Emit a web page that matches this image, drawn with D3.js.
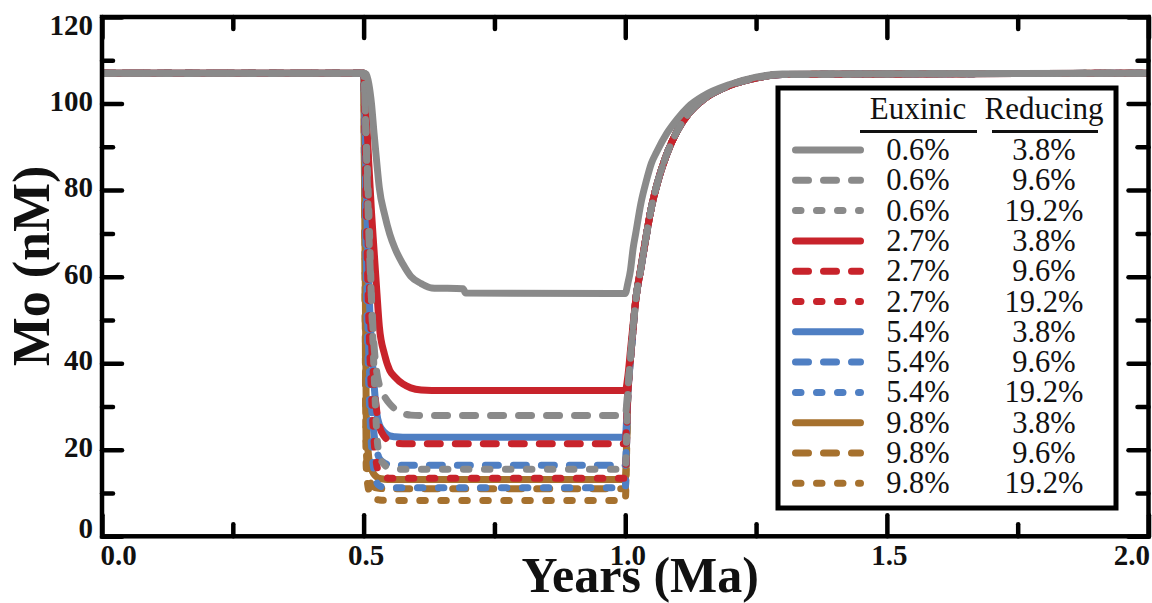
<!DOCTYPE html>
<html>
<head>
<meta charset="utf-8">
<script src="https://cdn.jsdelivr.net/npm/d3@7/dist/d3.min.js"></script>
<style>
  html, body { margin: 0; padding: 0; background: #ffffff; }
  svg { display: block; }
</style>
</head>
<body>
<svg id="chart" width="1152" height="603"></svg>
<script>
// Model time axis (Ma) shared by every scenario
const years = [0, 0.5, 0.505, 0.51, 0.515, 0.52, 0.525, 0.53, 0.54, 0.55, 0.56, 0.575, 0.59, 0.61, 0.63, 0.69, 0.695,
               1.0, 1.005, 1.01, 1.015, 1.02, 1.03, 1.04, 1.05, 1.06, 1.08, 1.1, 1.12, 1.15, 1.2, 1.25, 1.3, 2.0];

// Seawater Mo (nM) for each euxinic / reducing scenario
const mo_06_38  = [107, 107, 106.8, 104.5, 100, 93, 86.5, 80.5, 74.4, 69.8, 66.5, 62.9, 60.1, 58.4, 57.4, 57.2, 56.2,
                   56.1, 58.5, 61.5, 66.5, 70, 77, 82, 86.2, 88.8, 93.2, 96.5, 99.2, 101.8, 104.4, 106.1, 106.8, 107];
const mo_06_96  = [107, 107, 90, 70, 55, 44, 38, 35, 32.3, 30.6, 29.4, 28.4, 28.0, 27.9, 27.9, 27.9, 27.9,
                   27.9, 34, 41.5, 48.5, 54.5, 62, 69.3, 76, 81, 88.5, 93.8, 97.5, 101, 104.2, 105.9, 106.7, 107];
const mo_06_192 = [107, 107, 92, 75, 55, 38, 24, 18.8, 16.5, 15.8, 15.6, 15.5, 15.5, 15.5, 15.5, 15.5, 15.5,
                   15.5, 33, 41, 48, 54.5, 62, 69.3, 76, 81, 88.5, 93.8, 97.5, 101, 104.2, 105.9, 106.7, 107];
const mo_27_38  = [107, 107, 98, 86, 75, 66, 57, 48.5, 42, 38.3, 36.8, 35.2, 34.3, 33.8, 33.7, 33.7, 33.7,
                   33.7, 37, 43, 49, 54.5, 62.3, 69.5, 76, 81, 88.5, 93.8, 97.5, 101, 104.2, 105.9, 106.7, 107];
const mo_27_96  = [107, 107, 85, 62, 45, 35, 29, 25.5, 23, 21.9, 21.5, 21.4, 21.4, 21.4, 21.4, 21.4, 21.4,
                   21.4, 33, 41, 48, 54.5, 62, 69.3, 76, 81, 88.5, 93.8, 97.5, 101, 104.2, 105.9, 106.7, 107];
const mo_27_192 = [107, 107, 75, 50, 33, 22, 16.5, 14.5, 13.7, 13.4, 13.4, 13.4, 13.4, 13.4, 13.4, 13.4, 13.4,
                   13.4, 33, 41, 48, 54.5, 62, 69.3, 76, 81, 88.5, 93.8, 97.5, 101, 104.2, 105.9, 106.7, 107];
const mo_54_38  = [107, 107, 80, 58, 44, 35, 28.5, 25.8, 24, 23.2, 23.0, 22.9, 22.9, 22.9, 22.9, 22.9, 22.9,
                   22.9, 33, 41, 48, 54.5, 62, 69.3, 76, 81, 88.5, 93.8, 97.5, 101, 104.2, 105.9, 106.7, 107];
const mo_54_96  = [107, 107, 65, 42, 30, 23.5, 20, 18, 16.9, 16.5, 16.4, 16.4, 16.4, 16.4, 16.4, 16.4, 16.4,
                   16.4, 33, 41, 48, 54.5, 62, 69.3, 76, 81, 88.5, 93.8, 97.5, 101, 104.2, 105.9, 106.7, 107];
const mo_54_192 = [107, 107, 60, 35, 21, 15, 12.5, 11.7, 11.3, 11.2, 11.2, 11.2, 11.2, 11.2, 11.2, 11.2, 11.2,
                   11.2, 33, 41, 48, 54.5, 62, 69.3, 76, 81, 88.5, 93.8, 97.5, 101, 104.2, 105.9, 106.7, 107];
const mo_98_38  = [107, 107, 28, 18, 15.5, 14.3, 13.7, 13.4, 13.2, 13.1, 13.1, 13.1, 13.1, 13.1, 13.1, 13.1, 13.1,
                   13.1, 33, 41, 48, 54.5, 62, 69.3, 76, 81, 88.5, 93.8, 97.5, 101, 104.2, 105.9, 106.7, 107];
const mo_98_96  = [107, 107, 20, 13.5, 12, 11.4, 11.2, 11.1, 11.0, 11.0, 11.0, 11.0, 11.0, 11.0, 11.0, 11.0, 11.0,
                   11.0, 33, 41, 48, 54.5, 62, 69.3, 76, 81, 88.5, 93.8, 97.5, 101, 104.2, 105.9, 106.7, 107];
const mo_98_192 = [107, 107, 16, 10.5, 9.2, 8.7, 8.5, 8.4, 8.3, 8.3, 8.3, 8.3, 8.3, 8.3, 8.3, 8.3, 8.3,
                   8.3, 33, 41, 48, 54.5, 62, 69.3, 76, 81, 88.5, 93.8, 97.5, 101, 104.2, 105.9, 106.7, 107];

// Scenario labels (legend rows, in order)
const euxinic  = ["0.6%", "0.6%", "0.6%", "2.7%", "2.7%", "2.7%", "5.4%", "5.4%", "5.4%", "9.8%", "9.8%", "9.8%"];
const reducing = ["3.8%", "9.6%", "19.2%", "3.8%", "9.6%", "19.2%", "3.8%", "9.6%", "19.2%", "3.8%", "9.6%", "19.2%"];
const seriesValues = [mo_06_38, mo_06_96, mo_06_192, mo_27_38, mo_27_96, mo_27_192,
                      mo_54_38, mo_54_96, mo_54_192, mo_98_38, mo_98_96, mo_98_192];

// Axis ticks
const xTickValues = [0, 0.5, 1, 1.5, 2];
const xTickLabels = ["0.0", "0.5", "1.0", "1.5", "2.0"];
const xMinorTicks = [0.25, 0.75, 1.25, 1.75];
const yTickValues = [0, 20, 40, 60, 80, 100, 120];
const yTickLabels = ["0", "20", "40", "60", "80", "100", "120"];
const yMinorTicks = [10, 30, 50, 70, 90, 110];

const FONT = "'Liberation Serif', 'Times New Roman', Times, serif";

const svg = d3.select("#chart");
const L = 102, R = 1148.5, T = 17, B = 536.3;

const x = d3.scaleLinear().domain([0, 2]).range([L, R]);
const y = d3.scaleLinear().domain([0, 120]).range([B, T]);

const color = d3.scaleOrdinal()
  .domain(["0.6%", "2.7%", "5.4%", "9.8%"])
  .range(["#8a8a8a", "#c8232b", "#4f7fc3", "#a6712e"]);
const dash = d3.scaleOrdinal()
  .domain(["3.8%", "9.6%", "19.2%"])
  .range([null, "13 15", "5.5 15.5"]);

const series = seriesValues.map((vals, i) => ({
  eux: euxinic[i],
  red: reducing[i],
  points: years.map((t, j) => [t, vals[j]])
}));

// Plot clip
svg.append("defs").append("clipPath").attr("id", "plot-clip")
  .append("rect").attr("x", L).attr("y", T).attr("width", R - L).attr("height", B - T);

const line = d3.line()
  .x(d => x(d[0]))
  .y(d => y(d[1]))
  .curve(d3.curveMonotoneX);

// Draw in reverse legend order so the 0.6% curves sit on top
svg.append("g").attr("clip-path", "url(#plot-clip)")
  .selectAll("path")
  .data(series.slice().reverse())
  .join("path")
  .attr("d", d => line(d.points))
  .attr("fill", "none")
  .attr("stroke", d => color(d.eux))
  .attr("stroke-width", 7)
  .attr("stroke-linecap", "round")
  .attr("stroke-linejoin", "round")
  .attr("stroke-dasharray", d => dash(d.red));

// ---- Axes ----
function styleTicks(g, w) {
  g.select(".domain").remove();
  g.selectAll(".tick line").attr("stroke", "#000").attr("stroke-width", w).attr("stroke-linecap", "round");
}

// bottom major ticks with labels
const gxB = svg.append("g").attr("transform", `translate(0,${B})`)
  .call(d3.axisBottom(x).tickValues(xTickValues).tickSizeInner(-21).tickSizeOuter(0).tickPadding(8)
        .tickFormat((d, i) => xTickLabels[i]));
styleTicks(gxB, 4.5);
gxB.selectAll(".tick text")
  .attr("font-family", FONT).attr("font-weight", "bold").attr("font-size", 29).attr("fill", "#111")
  .attr("text-anchor", (d, i) => i === 0 ? "start" : (i === xTickValues.length - 1 ? "end" : "middle"))
  .attr("x", (d, i) => i === 0 ? -2 : (i === xTickValues.length - 1 ? 1 : 2));
// bottom minor ticks
styleTicks(svg.append("g").attr("transform", `translate(0,${B})`)
  .call(d3.axisBottom(x).tickValues(xMinorTicks).tickSizeInner(-12).tickSizeOuter(0).tickFormat("")), 4.5);
// top ticks
styleTicks(svg.append("g").attr("transform", `translate(0,${T})`)
  .call(d3.axisTop(x).tickValues(xTickValues).tickSizeInner(-21).tickSizeOuter(0).tickFormat("")), 4.5);
styleTicks(svg.append("g").attr("transform", `translate(0,${T})`)
  .call(d3.axisTop(x).tickValues(xMinorTicks).tickSizeInner(-12).tickSizeOuter(0).tickFormat("")), 4.5);

// left major ticks with labels
const gyL = svg.append("g").attr("transform", `translate(${L},0)`)
  .call(d3.axisLeft(y).tickValues(yTickValues).tickSizeInner(-20).tickSizeOuter(0).tickPadding(9)
        .tickFormat((d, i) => yTickLabels[i]));
styleTicks(gyL, 4.5);
gyL.selectAll(".tick text")
  .attr("font-family", FONT).attr("font-weight", "bold").attr("font-size", 29).attr("fill", "#111")
  .attr("dy", (d, i) => i === 0 ? "0em" : (i === yTickValues.length - 1 ? "0.66em" : "0.33em"))
  .attr("y", (d, i) => i === 0 ? 1 : (i === yTickValues.length - 1 ? -2 : -3));
// left minor ticks
styleTicks(svg.append("g").attr("transform", `translate(${L},0)`)
  .call(d3.axisLeft(y).tickValues(yMinorTicks).tickSizeInner(-11).tickSizeOuter(0).tickFormat("")), 4.5);
// right ticks
styleTicks(svg.append("g").attr("transform", `translate(${R},0)`)
  .call(d3.axisRight(y).tickValues(yTickValues).tickSizeInner(-20).tickSizeOuter(0).tickFormat("")), 4.5);
styleTicks(svg.append("g").attr("transform", `translate(${R},0)`)
  .call(d3.axisRight(y).tickValues(yMinorTicks).tickSizeInner(-11).tickSizeOuter(0).tickFormat("")), 4.5);

// frame
svg.append("rect")
  .attr("x", L).attr("y", T).attr("width", R - L).attr("height", B - T)
  .attr("fill", "none").attr("stroke", "#000").attr("stroke-width", 4.5);

// axis titles
svg.append("text")
  .attr("x", (L + R) / 2 + 15).attr("y", 592)
  .attr("text-anchor", "middle")
  .attr("font-family", FONT).attr("font-weight", "bold").attr("font-size", 50).attr("fill", "#111")
  .text("Years (Ma)");
svg.append("text")
  .attr("transform", "translate(49,266) rotate(-90)")
  .attr("text-anchor", "middle")
  .attr("font-family", FONT).attr("font-weight", "bold").attr("font-size", 52).attr("fill", "#111")
  .text("Mo (nM)");

// ---- Legend ----
const lg = svg.append("g");
lg.append("rect")
  .attr("x", 778).attr("y", 88).attr("width", 338).attr("height", 420)
  .attr("fill", "#fff").attr("stroke", "#000").attr("stroke-width", 5);

const colEux = 918, colRed = 1044;
const headerY = 119;
[["Euxinic", colEux, 860, 977], ["Reducing", colRed, 992, 1098]].forEach(([label, cx, x1, x2]) => {
  lg.append("text")
    .attr("x", cx).attr("y", headerY)
    .attr("text-anchor", "middle")
    .attr("font-family", FONT).attr("font-size", 31).attr("fill", "#111")
    .text(label);
  lg.append("line")
    .attr("x1", x1).attr("x2", x2).attr("y1", 131.5).attr("y2", 131.5)
    .attr("stroke", "#111").attr("stroke-width", 3);
});

const rowY = i => 150 + i * 30.3;
const rows = lg.selectAll("g.row").data(series).join("g").attr("class", "row")
  .attr("transform", (d, i) => `translate(0,${rowY(i)})`);
rows.append("line")
  .attr("x1", 795.5).attr("x2", 860.5).attr("y1", 0).attr("y2", 0)
  .attr("stroke", d => color(d.eux))
  .attr("stroke-width", 7)
  .attr("stroke-linecap", "round")
  .attr("stroke-dasharray", d => dash(d.red));
rows.append("text")
  .attr("x", colEux).attr("y", 10)
  .attr("text-anchor", "middle")
  .attr("font-family", FONT).attr("font-size", 30.5).attr("fill", "#111")
  .text(d => d.eux);
rows.append("text")
  .attr("x", colRed).attr("y", 10)
  .attr("text-anchor", "middle")
  .attr("font-family", FONT).attr("font-size", 30.5).attr("fill", "#111")
  .text(d => d.red);
</script>
</body>
</html>
